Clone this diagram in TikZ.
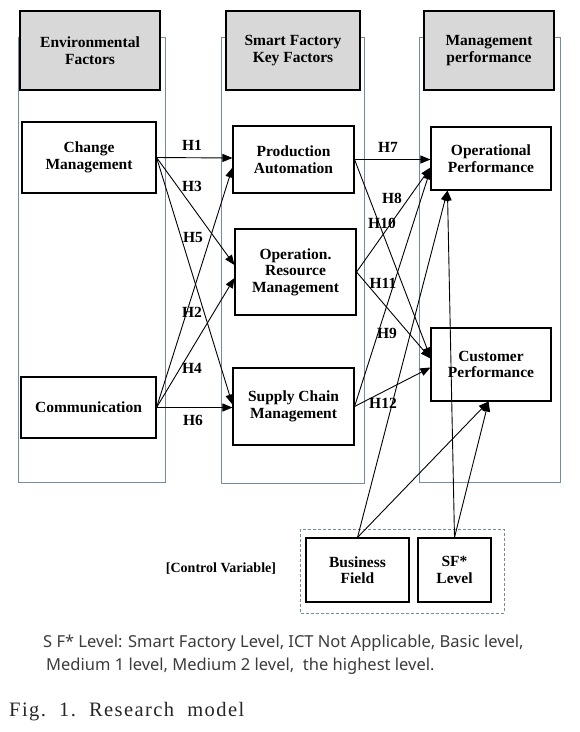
\documentclass[tikz,border=0pt]{standalone}
\usepackage{fontspec}
\setmainfont{Liberation Serif}
\newfontfamily\capfont{Liberation Serif}
\newfontfamily\notefont{Noto Sans}
\usetikzlibrary{arrows.meta,calc}
\definecolor{colline}{RGB}{118,138,162}
\definecolor{hdrfill}{RGB}{216,216,216}
\definecolor{notegray}{RGB}{60,60,60}
\begin{document}
\begin{tikzpicture}[x=1pt,y=-1pt,
  column/.style={draw=colline,line width=0.9pt},
  hdr/.style={draw=black,line width=1.2pt,fill=hdrfill,align=center,font=\bfseries\fontsize{15.5}{16.5}\selectfont,inner sep=0pt},
  box/.style={draw=black,line width=1.1pt,fill=white,align=center,font=\bfseries\fontsize{15.5}{16.5}\selectfont,inner sep=0pt},
  conn/.style={line width=0.9pt,-{Triangle[length=10pt,width=8pt]}},
  hlab/.style={font=\bfseries\fontsize{15.5}{16}\selectfont,inner sep=0pt}]
\useasboundingbox (0,0) rectangle (580,732);
\fill[white] (0,0) rectangle (580,732);
% columns
\draw[column] (18,37) rectangle (165,482);
\draw[column] (221,37) rectangle (364,483);
\draw[column] (419,37) rectangle (560,482);
% headers
\node[hdr,minimum width=140,minimum height=79] (h1) at (90,50.5) {Environmental\\Factors};
\node[hdr,minimum width=134,minimum height=79] (h2) at (293,50.5) {Smart Factory\\Key Factors};
\node[hdr,minimum width=130,minimum height=79] (h3) at (489,50.5) {Management\\performance};
% boxes
\node[box,minimum width=134,minimum height=71] (cm) at (89,157.5) {Change\\Management};
\node[box,minimum width=135,minimum height=61] (comm) at (88.5,407.5) {Communication};
\node[box,minimum width=121,minimum height=67] (pa) at (293.5,159.5) {Production\\Automation};
\node[box,minimum width=121,minimum height=86] (orm) at (295.5,272) {Operation.\\Resource\\Management};
\node[box,minimum width=121,minimum height=77] (scm) at (293.5,406.5) {Supply Chain\\Management};
\node[box,minimum width=120,minimum height=63] (op) at (491,158.5) {Operational\\Performance};
\node[box,minimum width=120,minimum height=73] (cp) at (491,364.5) {Customer\\Performance};
% control variables
\draw[draw=colline,line width=0.9pt,dash pattern=on 3pt off 2pt] (300,529) rectangle (504,613);
\node[box,minimum width=103,minimum height=64] (bf) at (357.5,570) {Business\\Field};
\node[box,minimum width=73,minimum height=64] (sf) at (454.5,570) {SF*\\Level};
\node[font=\bfseries\fontsize{14}{16}\selectfont,inner sep=0pt] (ctrl) at (221,569) {[Control Variable]};
% connectors
\draw[conn] (cm.east) -- ($(pa.west)+(0,-1.5)$);
\draw[conn] (cm.east) -- ($(orm.west)+(0,-7)$);
\draw[conn] (cm.east) -- ($(scm.west)+(0,-2)$);
\draw[conn] (comm.east) -- ($(pa.west)+(0,8)$);
\draw[conn] (comm.east) -- ($(orm.west)+(0,6)$);
\draw[conn] (comm.east) -- (scm.west |- comm.east);
\draw[conn] (pa.east) -- (op.west |- pa.east);
\draw[conn] (orm.east) -- ($(op.west)+(0,9)$);
\draw[conn] (scm.east) -- ($(op.west)+(0,11)$);
\draw[conn] (pa.east) -- ($(cp.west)+(0,-7)$);
\draw[conn] (orm.east) -- ($(cp.west)+(0,-6)$);
\draw[conn] (scm.east) -- ($(cp.west)+(0,3)$);
\coordinate (opin) at ($(op.south west)+(17,0)$);
\coordinate (cpin) at ($(cp.south east)+(-63,0)$);
\draw[conn] (bf.north) -- (opin);
\draw[conn] (sf.north) -- (opin);
\draw[conn] (bf.north) -- (cpin);
\draw[conn] (sf.north) -- (cpin);
% hypothesis labels
\node[hlab] (l1) at (192,145) {H1};
\node[hlab] (l3) at (192,186) {H3};
\node[hlab] (l5) at (193,237) {H5};
\node[hlab] (l2) at (192,312) {H2};
\node[hlab] (l4) at (192,368) {H4};
\node[hlab] (l6) at (193,420) {H6};
\node[hlab] (l7) at (388,147) {H7};
\node[hlab] (l8) at (392,198) {H8};
\node[hlab] (l10) at (382,223) {H10};
\node[hlab] (l11) at (383,283) {H11};
\node[hlab] (l9) at (387,333) {H9};
\node[hlab] (l12) at (383,403) {H12};
% notes
\node[anchor=west,inner sep=0pt,text=notegray,font=\notefont\fontsize{16.5}{20}\selectfont] (n1) at (43,643) {S F* Level: Smart Factory Level, ICT Not Applicable, Basic level,};
\node[anchor=west,inner sep=0pt,text=notegray,font=\notefont\fontsize{16.5}{20}\selectfont] (n2) at (46,666) {Medium 1 level, Medium 2 level,\ \ the highest level.};
\node[anchor=west,inner sep=0pt,text=black!85,font=\capfont\addfontfeature{LetterSpace=7}\fontsize{20.5}{24}\selectfont] (fig) at (9,712) {Fig.\ \ 1.\ \ Research\ \ model};
\end{tikzpicture}
\end{document}
